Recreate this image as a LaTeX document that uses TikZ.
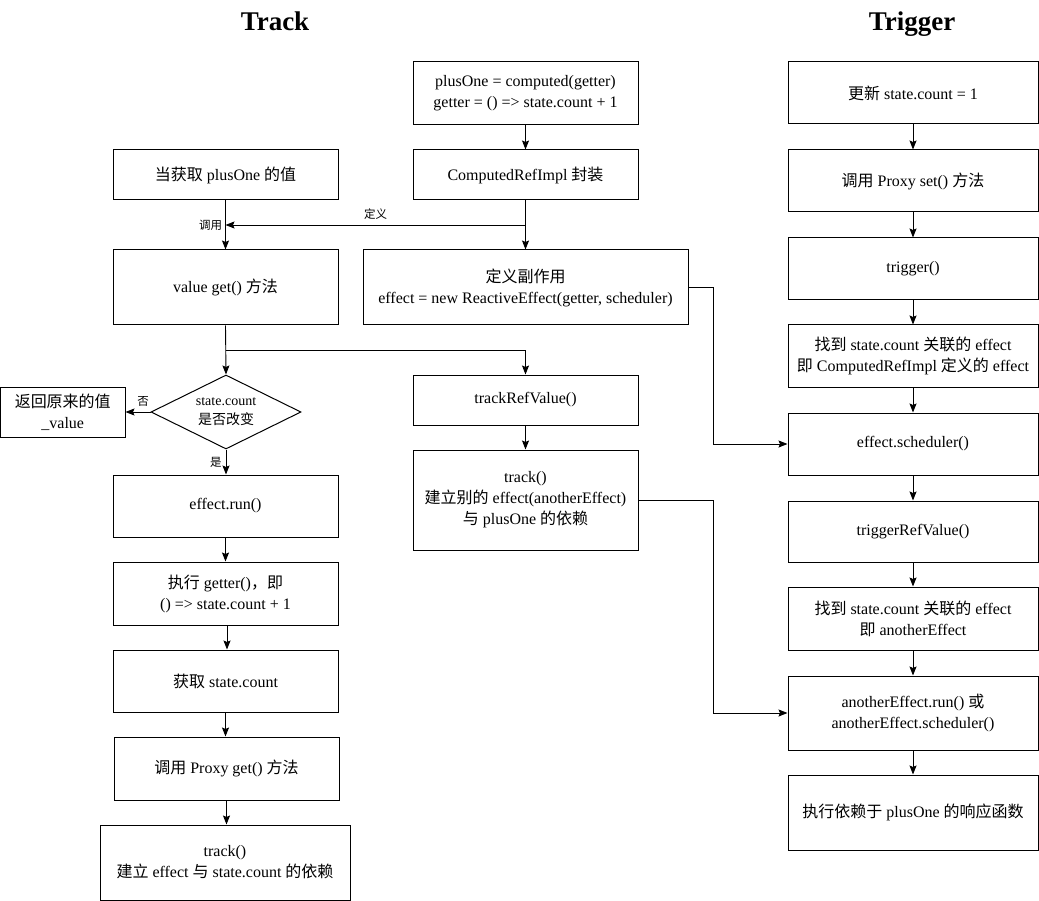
\documentclass[tikz,border=0pt]{standalone}
\usepackage{fontspec}
\setmainfont{Liberation Serif}
\newfontfamily\cjkfont{Noto Sans CJK SC}
\newcommand\zh[1]{{\cjkfont #1}}
\usetikzlibrary{arrows.meta,shapes.geometric}
\begin{document}
\begin{tikzpicture}[x=1pt,y=-1pt,
  box/.style={draw, line width=1pt, align=center, inner sep=0pt, font=\fontsize{16}{21}\selectfont},
  arr/.style={-{Stealth[length=9pt,width=7pt,inset=1.5pt]}, line width=0.9pt},
  lbl/.style={font=\fontsize{11.5}{13}\selectfont, inner sep=1pt},
  ttl/.style={font=\fontsize{27}{30}\selectfont\bfseries, anchor=base}]
\useasboundingbox (0,0) rectangle (1039,901);
% titles
\node[ttl] (t1) at (275,31) {Track};
\node[ttl] (t2) at (912,31) {Trigger};
% left column
\node[box, minimum width=225pt, minimum height=50pt] (get) at (225.5,175) {\zh{当获取} plusOne \zh{的值}};
\node[box, minimum width=225pt, minimum height=75pt] (valget) at (225.5,287.5) {value get() \zh{方法}};
\node[draw, diamond, aspect=2, line width=1pt, inner sep=0pt, minimum width=150pt, minimum height=74pt, align=center, font=\fontsize{14}{19}\selectfont] (dia) at (226,412) {state.count\\\zh{是否改变}};
\node[box, minimum width=124.5pt, minimum height=50pt] (ret) at (62.75,412) {\zh{返回原来的值}\\\_value};
\node[box, minimum width=225pt, minimum height=62pt] (run) at (225.5,506) {effect.run()};
\node[box, minimum width=225pt, minimum height=63pt] (exec) at (225.5,593.5) {\zh{执行} getter()\zh{，即}\\() => state.count + 1};
\node[box, minimum width=225pt, minimum height=62pt] (getsc) at (225.5,681) {\zh{获取} state.count};
\node[box, minimum width=225pt, minimum height=63pt] (pget) at (226.5,768.5) {\zh{调用} Proxy get() \zh{方法}};
\node[box, minimum width=250pt, minimum height=75pt] (track1) at (225,862.5) {track()\\\zh{建立} effect \zh{与} state.count \zh{的依赖}};
% middle column
\node[box, minimum width=225pt, minimum height=63pt] (comp) at (525.5,93.5) {plusOne = computed(getter)\\getter = () => state.count + 1};
\node[box, minimum width=225pt, minimum height=50pt] (cri) at (525.5,175) {ComputedRefImpl \zh{封装}};
\node[box, minimum width=325pt, minimum height=75pt] (effdef) at (525.5,287.5) {\zh{定义副作用}\\effect = new ReactiveEffect(getter, scheduler)};
\node[box, minimum width=225pt, minimum height=50pt] (trv) at (525.5,400) {trackRefValue()};
\node[box, minimum width=225pt, minimum height=100pt] (track2) at (525.5,500) {track()\\\zh{建立别的} effect(anotherEffect)\\\zh{与} plusOne \zh{的依赖}};
% right column
\node[box, minimum width=250pt, minimum height=62pt] (upd) at (913,93) {\zh{更新} state.count = 1};
\node[box, minimum width=250pt, minimum height=62pt] (pset) at (913,181) {\zh{调用} Proxy set() \zh{方法}};
\node[box, minimum width=250pt, minimum height=62pt] (trig) at (913,269) {trigger()};
\node[box, minimum width=250pt, minimum height=62pt] (find1) at (913,356) {\zh{找到} state.count \zh{关联的} effect\\\zh{即} ComputedRefImpl \zh{定义的} effect};
\node[box, minimum width=250pt, minimum height=62pt] (sched) at (913,444) {effect.scheduler()};
\node[box, minimum width=250pt, minimum height=61pt] (trvr) at (913,531.5) {triggerRefValue()};
\node[box, minimum width=250pt, minimum height=63pt] (find2) at (913,618.5) {\zh{找到} state.count \zh{关联的} effect\\\zh{即} anotherEffect};
\node[box, minimum width=250pt, minimum height=74pt] (arun) at (913,713) {anotherEffect.run() \zh{或}\\anotherEffect.scheduler()};
\node[box, minimum width=250pt, minimum height=75pt] (exec2) at (913,812.5) {\zh{执行依赖于} plusOne \zh{的响应函数}};
% connectors left
\draw[arr] (get.south) -- (get.south |- valget.north) node[lbl, midway, left=2pt] {\zh{调用}};
\coordinate (j1) at (525.5,225);
\draw[arr] (j1) -- (get.south |- j1) node[lbl, midway, above=4pt] {\zh{定义}};
\draw[arr] (valget.south) -- (dia.north);
\coordinate (b1) at (225.5,350);
\draw[arr] (b1) -| (trv.north);
\draw[arr] (dia.west) -- (ret.east) node[lbl, pos=0.3, above=4pt] {\zh{否}};
\draw[arr] (dia.south) -- (dia.south |- run.north) node[lbl, midway, left=3pt] {\zh{是}};
\draw[arr] (run.south) -- (run.south |- exec.north);
\coordinate (e1) at (227,625);
\draw[arr] (e1) -- (e1 |- getsc.north);
\draw[arr] (getsc.south) -- (getsc.south |- pget.north);
\draw[arr] (pget.south) -- (pget.south |- track1.north);
% connectors middle
\draw[arr] (comp.south) -- (cri.north);
\draw[arr] (cri.south) -- (effdef.north);
\draw[arr] (trv.south) -- (track2.north);
\draw[arr] (effdef.east) -- ++(25,0) |- (sched.west);
\draw[arr] (track2.east) -- ++(75,0) |- (arun.west);
% connectors right
\draw[arr] (upd.south) -- (pset.north);
\draw[arr] (pset.south) -- (trig.north);
\draw[arr] (trig.south) -- (find1.north);
\draw[arr] (find1.south) -- (sched.north);
\draw[arr] (sched.south) -- (trvr.north);
\draw[arr] (trvr.south) -- (find2.north);
\draw[arr] (find2.south) -- (arun.north);
\draw[arr] (arun.south) -- (exec2.north);
\end{tikzpicture}
\end{document}
